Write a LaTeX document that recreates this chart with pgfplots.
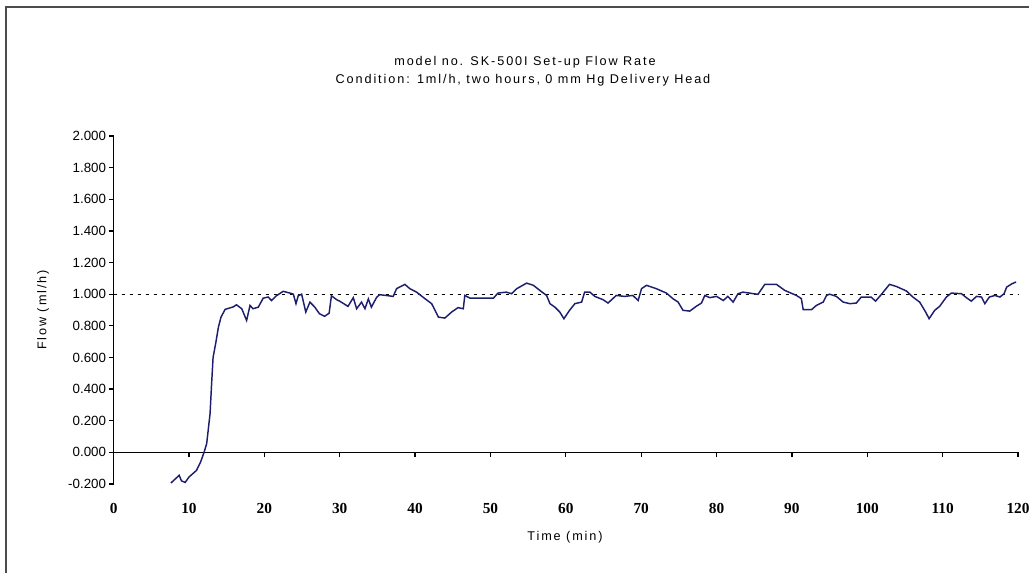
\documentclass[border=0pt]{standalone}
\usepackage{fontspec}
\setmainfont{Liberation Sans}
\newfontfamily\labfont[LetterSpace=15]{Liberation Sans}
\newfontfamily\serifnum{Liberation Serif}
\usepackage{pgfplots}
\pgfplotsset{compat=1.18}
\definecolor{flownavy}{RGB}{30,30,110}

\begin{document}
\begin{tikzpicture}
\useasboundingbox (0pt,0pt) rectangle (771.75pt,429pt);
% frame of the chart area (left and top edges are visible)
\draw[line width=1.4pt, black!70] (4.5pt,-3pt) -- (4.5pt,423.75pt) -- (775pt,423.75pt);

\begin{axis}[
    at={(85.2pt,66pt)}, anchor=south west,
    scale only axis,
    width=678.3pt, height=261pt,
    xmin=0, xmax=120,
    ymin=-0.2, ymax=2.0,
    axis x line=middle,
    axis y line=left,
    axis line style={-, line width=1.1pt},
    hide obscured x ticks=false,
    hide obscured y ticks=false,
    xtick={0,10,...,120},
    ytick={-0.2,0,0.2,0.4,0.6,0.8,1.0,1.2,1.4,1.6,1.8,2.0},
    tick align=outside,
    major tick length=3.5pt,
    tick style={line width=1pt, black},
    xticklabel style={font=\fontsize{11.5}{12}\serifnum\bfseries, anchor=north, yshift=-31pt},
    yticklabel style={font=\fontsize{10}{11}\selectfont, inner sep=2pt},
    yticklabel={\pgfmathprintnumber[fixed, fixed zerofill, precision=3]{\tick}},
    /pgf/number format/assume math mode=true,
    clip=false,
]
\addplot[black, line width=1pt, dash pattern=on 2.2pt off 3.8pt] coordinates {(0,1) (120,1)};
\addplot[flownavy, line width=1.1pt] coordinates {
(7.6,-0.194) (8.7,-0.145) (9.0,-0.18) (9.5,-0.19) (10.0,-0.156) (11.0,-0.114)
(11.55,-0.06) (12.0,0.0) (12.35,0.055) (12.8,0.245) (13.0,0.43) (13.2,0.60)
(13.55,0.69) (13.9,0.79) (14.25,0.855) (14.8,0.904) (15.9,0.92) (16.3,0.933)
(17.0,0.908) (17.65,0.834) (18.1,0.929) (18.5,0.908) (19.2,0.918) (19.85,0.975)
(20.5,0.982) (20.95,0.96) (21.6,0.99) (22.5,1.018) (23.4,1.007) (23.85,1.0)
(24.2,0.94) (24.5,0.99) (24.95,1.0) (25.5,0.887) (26.05,0.95) (26.7,0.918)
(27.3,0.877) (28.0,0.86) (28.6,0.88) (28.9,0.99) (29.6,0.965) (30.0,0.956)
(31.1,0.923) (31.8,0.978) (32.25,0.908) (32.9,0.95) (33.35,0.908) (33.8,0.97)
(34.2,0.918) (34.9,0.98) (35.3,0.997) (37.1,0.986) (37.55,1.035) (38.65,1.062)
(39.3,1.035) (40.2,1.013) (41.3,0.972) (42.2,0.94) (43.1,0.855) (43.95,0.849)
(44.85,0.887) (45.7,0.915) (46.4,0.908) (46.6,0.992) (47.3,0.975) (50.4,0.975)
(51.0,1.007) (52.1,1.013) (52.8,1.003) (53.5,1.035) (54.8,1.07) (55.7,1.056)
(56.55,1.024) (57.45,0.992) (57.9,0.94) (58.55,0.918) (59.2,0.887) (59.75,0.845)
(60.5,0.898) (61.2,0.94) (62.1,0.95) (62.5,1.013) (63.2,1.013) (63.85,0.986)
(64.95,0.965) (65.6,0.944) (66.7,0.992) (67.8,0.986) (68.9,0.992) (69.6,0.96)
(70.05,1.035) (70.7,1.056) (72.0,1.035) (73.35,1.007) (74.2,0.972) (74.9,0.95)
(75.55,0.898) (76.45,0.893) (77.3,0.923) (78.0,0.944) (78.45,0.992) (79.1,0.978)
(80.0,0.986) (80.9,0.96) (81.5,0.986) (82.2,0.95) (82.85,1.003) (83.5,1.013)
(85.5,0.999) (86.4,1.062) (87.95,1.062) (89.05,1.024) (90.6,0.992) (91.25,0.972)
(91.5,0.902) (92.6,0.902) (93.25,0.929) (94.15,0.95) (94.6,0.992) (95.0,1.0)
(95.9,0.986) (96.8,0.95) (97.7,0.94) (98.55,0.944) (99.2,0.982) (100.5,0.982)
(101.1,0.956) (101.9,1.0) (102.95,1.062) (103.85,1.049) (105.2,1.02) (106.05,0.982)
(106.95,0.95) (107.75,0.887) (108.2,0.845) (108.95,0.898) (109.6,0.923) (110.5,0.982)
(111.15,1.007) (112.5,1.003) (113.15,0.978) (113.8,0.956) (114.5,0.986) (115.15,0.982)
(115.6,0.94) (116.2,0.982) (116.95,0.992) (117.6,0.982) (118.15,1.003) (118.5,1.045)
(119.2,1.066) (119.75,1.077)
};
\end{axis}

% titles and axis labels
\node[font=\fontsize{9.5}{10}\labfont] at (393.75pt,382.5pt) {model no. SK-500I Set-up Flow Rate};
\node[font=\fontsize{9.5}{10}\labfont] at (392.25pt,369pt) {Condition: 1ml/h, two hours, 0 mm Hg Delivery Head};
\node[font=\fontsize{9.5}{10}\labfont] at (423.75pt,26.25pt) {Time (min)};
\node[font=\fontsize{9.5}{10}\labfont, rotate=90] at (32.25pt,196.5pt) {Flow (ml/h)};
\end{tikzpicture}
\end{document}
